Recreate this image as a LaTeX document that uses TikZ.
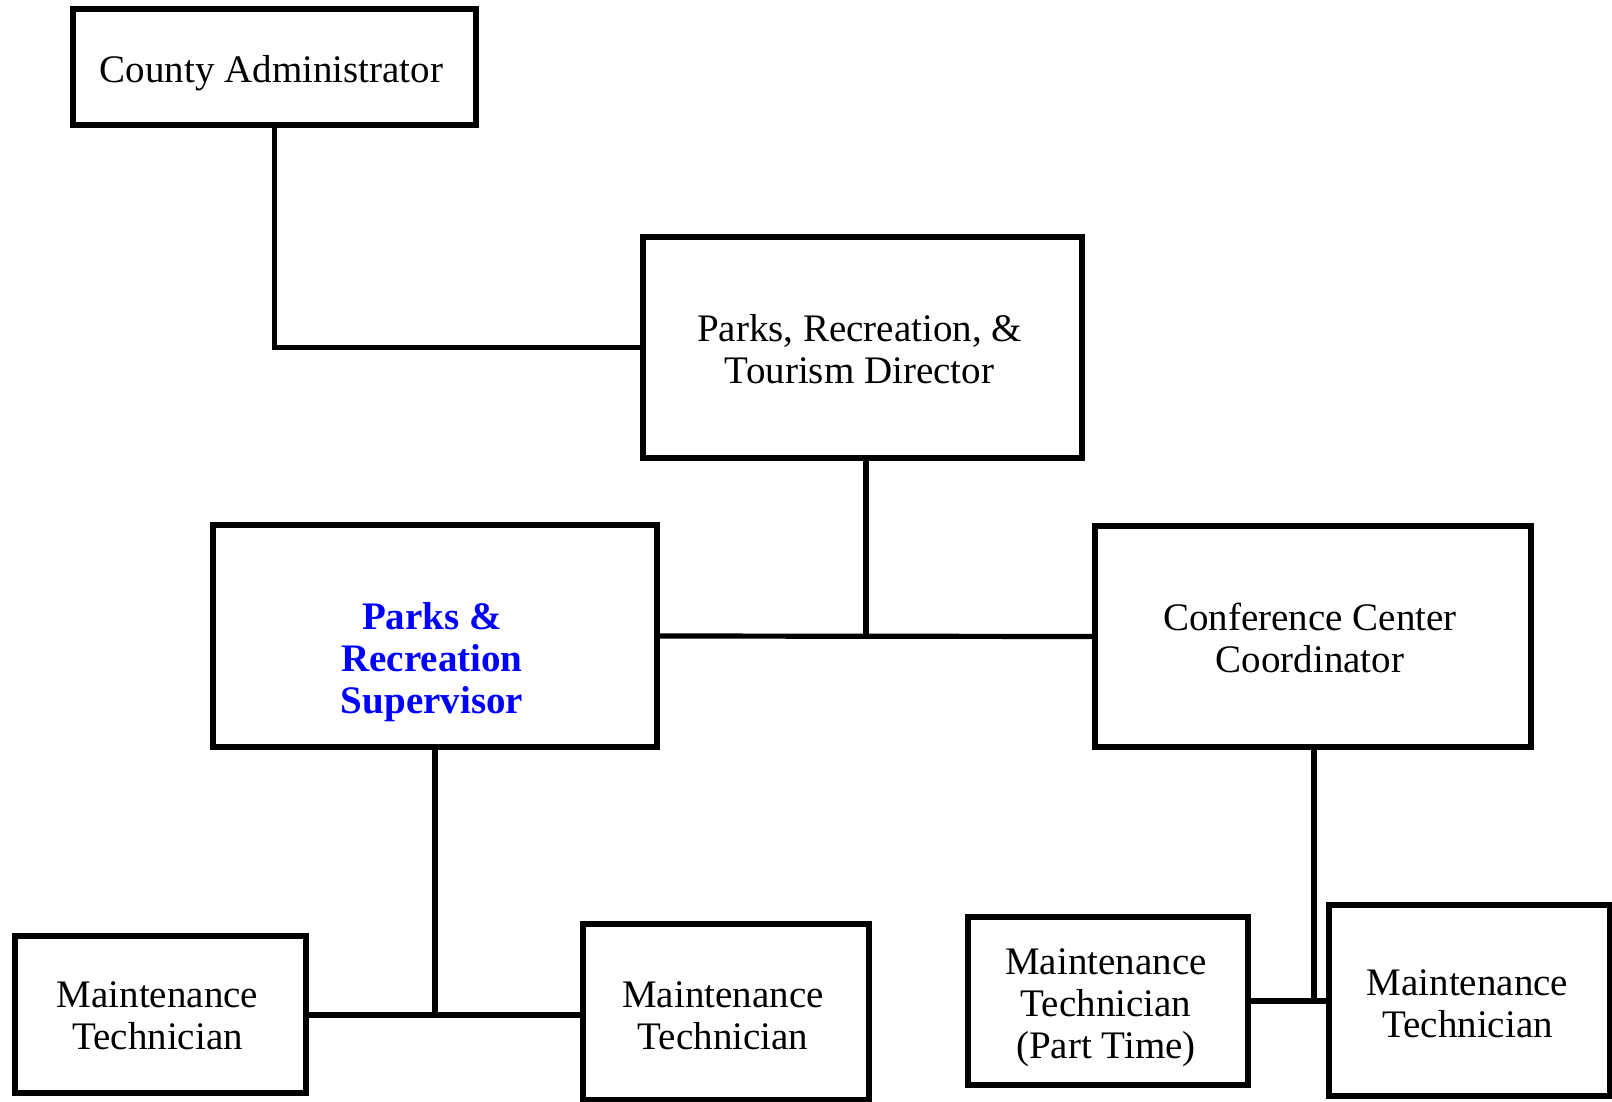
\documentclass[tikz,border=0pt]{standalone}
\usepackage{fontspec}
\setmainfont{Liberation Serif}
\begin{document}
\begin{tikzpicture}[x=1pt,y=-1pt,
  box/.style={draw=black,line width=5.5pt,rectangle,inner sep=0pt},
  txt/.style={align=center,inner sep=0pt,font=\fontsize{39}{42}\selectfont},
  wire/.style={draw=black,line width=5.2pt}]
\useasboundingbox (0,0) rectangle (1612,1102);
% boxes: centres and sizes in px
\node[box,minimum width=403,minimum height=116] (ca)   at (274.5,67)    {};
\node[box,minimum width=439,minimum height=221] (dir)  at (862.5,347.5) {};
\node[box,minimum width=444,minimum height=222] (sup)  at (435,636)     {};
\node[box,minimum width=436,minimum height=221] (conf) at (1313,636.5)  {};
\node[box,minimum width=291,minimum height=157] (mt1)  at (160.5,1014.5) {};
\node[box,minimum width=286,minimum height=176] (mt2)  at (726,1012)    {};
\node[box,minimum width=280,minimum height=168] (mt3)  at (1108,1001)   {};
\node[box,minimum width=281,minimum height=191] (mt4)  at (1469.5,1000.5) {};
% titles
\node[txt] (catxt)   at ([xshift=-3pt,yshift=-6pt]ca.center)   {County Administrator};
\node[txt] (dirtxt)  at ([xshift=-3pt,yshift=-2pt]dir.center)  {Parks, Recreation, \&\\Tourism Director};
\node[txt,font=\fontsize{39}{42}\selectfont\bfseries,text=blue] (suptxt)
      at ([xshift=-3pt,yshift=-26pt]sup.center) {Parks \&\\Recreation\\Supervisor};
\node[txt] (conftxt) at ([xshift=-3pt,yshift=-1pt]conf.center) {Conference Center\\Coordinator};
\node[txt] (mt1txt)  at ([xshift=-3pt,yshift=-1pt]mt1.center)  {Maintenance\\Technician};
\node[txt] (mt2txt)  at ([xshift=-3pt,yshift=-4pt]mt2.center)  {Maintenance\\Technician};
\node[txt] (mt3txt)  at ([xshift=-2pt,yshift=-7pt]mt3.center)  {Maintenance\\Technician\\(Part Time)};
\node[txt] (mt4txt)  at ([xshift=-2pt,yshift=-3pt]mt4.center)  {Maintenance\\Technician};
% junctions
\coordinate (jtop) at (866,637);
\coordinate (jl) at (435,1015);
\coordinate (jr) at (1314,1001);
% reporting lines
\draw[wire] (ca.south) |- (dir.west);
\draw[wire] (sup.east) -- (conf.west);
\draw[wire] (dir.south -| jtop) -- (jtop);
\draw[wire] (sup.south) -- (jl);
\draw[wire] (mt1.east |- jl) -- (mt2.west |- jl);
\draw[wire] (conf.south -| jr) -- (jr);
\draw[wire] (mt3.east |- jr) -- (mt4.west |- jr);
\end{tikzpicture}
\end{document}
